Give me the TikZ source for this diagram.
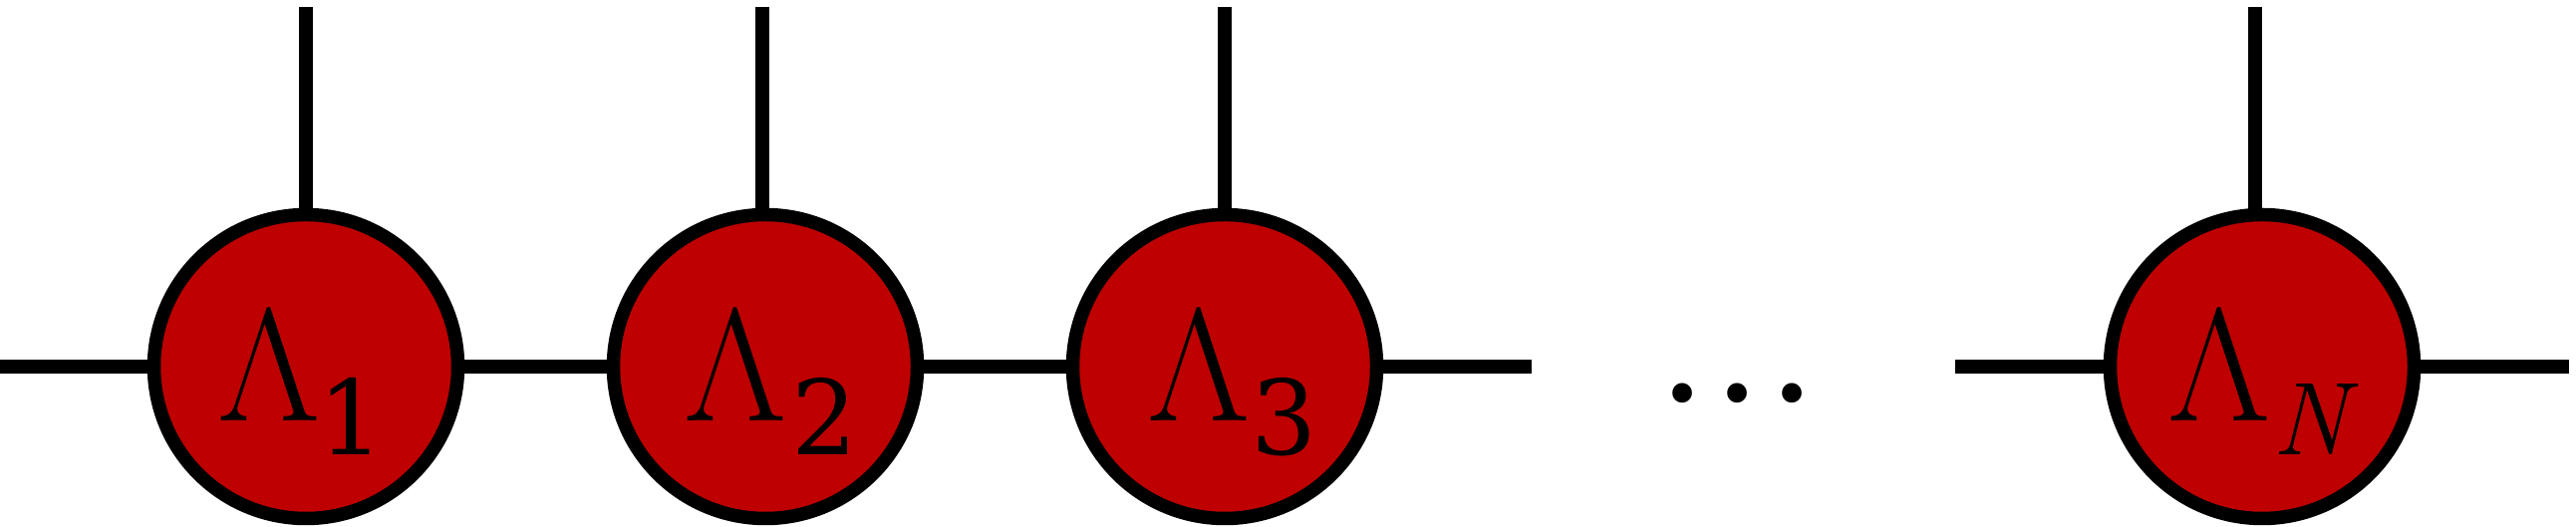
\documentclass[tikz,border=0pt]{standalone}
\usepackage{fontspec}
\newfontfamily\dvs{DejaVu Serif}
\definecolor{nodered}{RGB}{190,0,0}
\newcommand\tsub[2]{\kern#1\raisebox{-6.7pt}{\fontsize{20.8}{24}\selectfont #2}}
\begin{document}
\begin{tikzpicture}[x=0.2pt,y=-0.2pt,
  tensor/.style={circle,draw=black,fill=nodered,line width=2.7pt,minimum size=61pt,
    inner sep=0pt,outer sep=0pt},
  lbl/.style={anchor=base west,inner sep=0pt,outer sep=0pt,
    font=\fontsize{32.2}{38}\selectfont},
  leg/.style={line width=2.7pt},
  dotsstyle/.style={anchor=base,inner sep=0pt,outer sep=0pt,
    font=\dvs\fontsize{30.2}{36}\selectfont}]
\useasboundingbox (0,0) rectangle (2585,529);
\node[tensor] (t1) at (307,368) {};
\node[tensor] (t2) at (768,368) {};
\node[tensor] (t3) at (1229,368) {};
\node[tensor] (tN) at (2270,368) {};
\node[lbl] (n1) at (218,423) {Λ\tsub{-0.3pt}{\dvs 1}};
\node[lbl] (n2) at (686,423) {Λ\tsub{1.1pt}{\dvs 2}};
\node[lbl] (n3) at (1151,423) {Λ\tsub{0.2pt}{\dvs 3}};
\node[lbl] (nN) at (2175,423) {Λ\tsub{0.4pt}{\itshape N}};
\node[dotsstyle] (dots) at (1743,403) {.\kern0.046em.\kern0.046em.};
\coordinate (l0) at (0,368);
\coordinate (r3) at (1537,368);
\coordinate (lN) at (1962,368);
\coordinate (rN) at (2578,368);
\coordinate (u1) at (307,7);
\coordinate (u2) at (765,7);
\coordinate (u3) at (1229,7);
\coordinate (uN) at (2263,7);
\draw[leg] (l0) -- (t1.west);
\draw[leg] (t1.east) -- (t2.west);
\draw[leg] (t2.east) -- (t3.west);
\draw[leg] (t3.east) -- (r3);
\draw[leg] (lN) -- (tN.west);
\draw[leg] (tN.east) -- (rN);
\draw[leg] (u1) -- (u1 |- t1.north);
\draw[leg] (u2) -- (u2 |- t2.north);
\draw[leg] (u3) -- (u3 |- t3.north);
\draw[leg] (uN) -- (uN |- tN.north);
\end{tikzpicture}
\end{document}
